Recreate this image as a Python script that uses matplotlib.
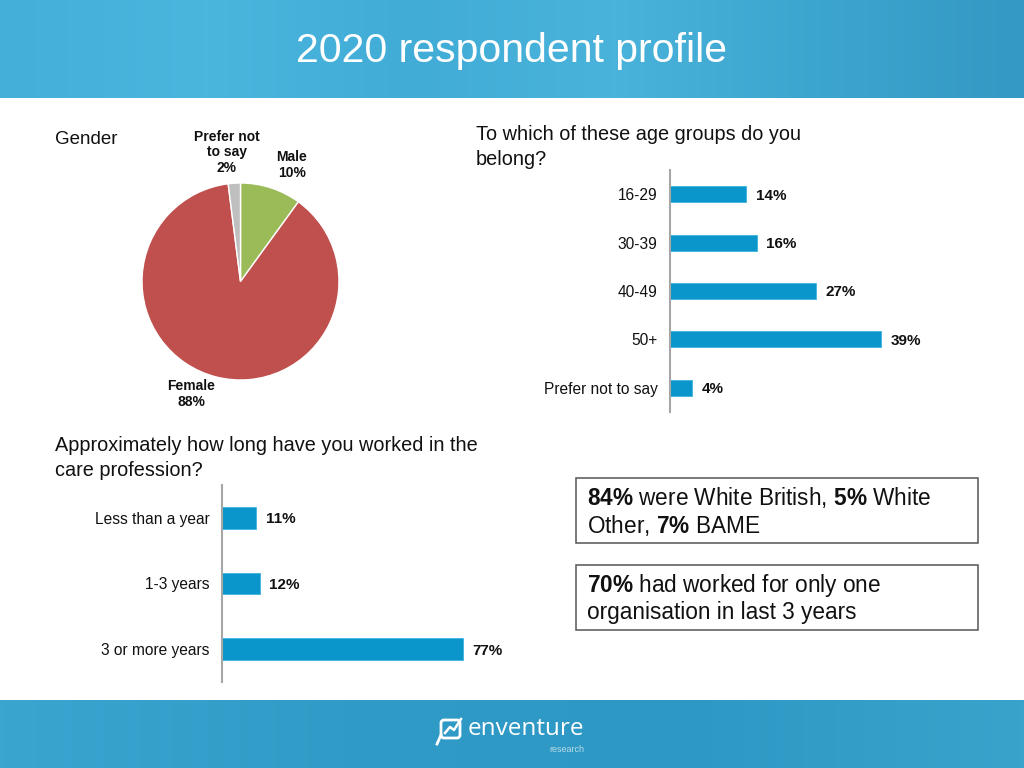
import matplotlib
matplotlib.use("Agg")
import matplotlib.pyplot as plt
import numpy as np
from matplotlib.patches import Rectangle, FancyBboxPatch
from matplotlib.colors import LinearSegmentedColormap

plt.rcParams['font.family'] = ['Liberation Sans', 'DejaVu Sans']
plt.rcParams['mathtext.fontset'] = 'custom'
plt.rcParams['mathtext.rm'] = 'Liberation Sans'
plt.rcParams['mathtext.bf'] = 'Liberation Sans:bold'

# ---------- DATA ----------
gender_labels = ['Male', 'Female', 'Prefer not\nto say']
gender_values = [10, 88, 2]
gender_colors = ['#9bbb59', '#c0504d', '#bfbfbf']

age_labels = ['16-29', '30-39', '40-49', '50+', 'Prefer not to say']
age_values = [14, 16, 27, 39, 4]

tenure_labels = ['Less than a year', '1-3 years', '3 or more years']
tenure_values = [11, 12, 77]

BAR_COLOR = '#0a96cb'
AXIS_GREY = '#a6a6a6'
W, H = 1024, 768


def px_box(x0, y0, x1, y1):
    # pixel box (top-left origin) -> figure fraction rect
    return [x0 / W, 1 - y1 / H, (x1 - x0) / W, (y1 - y0) / H]


fig = plt.figure(figsize=(10.24, 7.68), dpi=100)
fig.patch.set_facecolor('white')

# ---------- background layer in pixel coords ----------
bg = fig.add_axes([0, 0, 1, 1], zorder=0)
bg.set_xlim(0, W); bg.set_ylim(H, 0); bg.axis('off')

head_cmap = LinearSegmentedColormap.from_list(
    'head', ['#44afd9', '#4ab6de', '#41acd6', '#49b3db', '#3ca5cf', '#3499c4'])
bg.imshow(np.linspace(0, 1, 256)[None, :], cmap=head_cmap, aspect='auto',
          extent=(0, W, 98, 0), zorder=0)
foot_cmap = LinearSegmentedColormap.from_list(
    'foot', ['#3aa6d0', '#2f9bc6', '#2d98c4', '#3aa3cc'])
bg.imshow(np.linspace(0, 1, 256)[None, :], cmap=foot_cmap, aspect='auto',
          extent=(0, W, H, 700), zorder=0)
bg.set_xlim(0, W); bg.set_ylim(H, 0)

bg.text(512, 51, '2020 respondent profile', color='white', fontsize=29.5,
        ha='center', va='center')

# logo
bg.add_patch(FancyBboxPatch((441, 720), 19, 18, boxstyle='round,pad=0,rounding_size=3',
                            fill=False, ec='white', lw=2))
bg.plot([441, 437], [735, 744], color='white', lw=2)
bg.plot([445, 450, 454, 461], [733, 727, 730, 719], color='white', lw=1.8)
bg.text(468, 729, 'enventure', color='white', fontsize=17.5, ha='left', va='center',
        family=['Open Sans', 'Liberation Sans'])
bg.text(584, 749, 'research', color='#b9dcea', fontsize=6.5, ha='right', va='center')

# section titles
bg.text(55, 139, 'Gender', fontsize=13.5, ha='left', va='center', color='#111111')
bg.text(476, 147, 'To which of these age groups do you\nbelong?', fontsize=14.3,
        ha='left', va='center', linespacing=1.35, color='#111111')
bg.text(55, 458, 'Approximately how long have you worked in the\ncare profession?',
        fontsize=14.3, ha='left', va='center', linespacing=1.35, color='#111111')

# callout boxes
for (x0, y0, x1, y1) in [(576, 478, 978, 543), (576, 565, 978, 630)]:
    bg.add_patch(Rectangle((x0, y0), x1 - x0, y1 - y0, fill=False, ec='#555555', lw=1.1))
bg.text(587, 511, r'$\bf{84\%}$ were White British, $\bf{5\%}$ White' + '\n' +
        r'Other, $\bf{7\%}$ BAME', fontsize=16.3, ha='left', va='center',
        linespacing=1.15, color='#111111')
bg.text(587, 598, r'$\bf{70\%}$ had worked for only one' + '\n' +
        'organisation in last 3 years', fontsize=16.3, ha='left', va='center',
        linespacing=1.15, color='#111111')

# ---------- pie ----------
r_px = 98.5
cx, cy = 240.5, 281.5
pax = fig.add_axes(px_box(cx - r_px, cy - r_px, cx + r_px, cy + r_px), zorder=2)
pax.pie(gender_values, colors=gender_colors, startangle=90, counterclock=False,
        radius=1, wedgeprops=dict(edgecolor='white', linewidth=1))
pax.set_xlim(-1, 1); pax.set_ylim(-1, 1); pax.set_aspect('auto')
label_pos = [(0.52, 1.18), (-0.50, -1.14), (-0.14, 1.31)]
for lab, val, (lx, ly) in zip(gender_labels, gender_values, label_pos):
    pax.text(lx, ly, f'{lab}\n{val}%', ha='center', va='center', fontsize=10,
             fontweight='bold', linespacing=1.15, clip_on=False, color='#111111')


def hbar_panel(rect, labels, values, xmax, bar_h):
    ax = fig.add_axes(rect, zorder=2)
    y = np.arange(len(labels))
    ax.barh(y, values, height=bar_h, color=BAR_COLOR, edgecolor='#3db3e0', linewidth=0.6)
    ax.set_ylim(len(labels) - 0.5, -0.5)
    ax.set_xlim(0, xmax)
    ax.set_yticks(y)
    ax.set_yticklabels(labels, fontsize=11.2, color='#111111')
    ax.tick_params(axis='y', length=0, pad=9)
    ax.set_xticks([])
    for s in ['top', 'right', 'bottom']:
        ax.spines[s].set_visible(False)
    ax.spines['left'].set_color(AXIS_GREY)
    ax.spines['left'].set_linewidth(1.5)
    ax.patch.set_alpha(0)
    for yi, v in zip(y, values):
        ax.annotate(f'{v}%', (v, yi), xytext=(7, -1), textcoords='offset points',
                    ha='left', va='center', fontsize=11, fontweight='bold', color='#111111')
    return ax


hbar_panel(px_box(670, 170, 995, 412), age_labels, age_values, 60, 0.33)
hbar_panel(px_box(222, 485, 535, 682), tenure_labels, tenure_values, 100, 0.335)

fig.savefig('out.png', dpi=100)
